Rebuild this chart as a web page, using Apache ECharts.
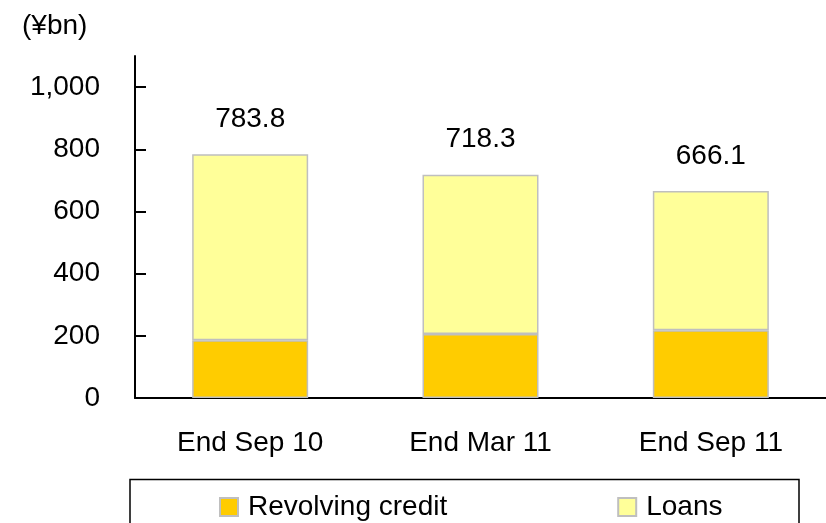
<!DOCTYPE html>
<html>
<head>
<meta charset="utf-8">
<script src="https://cdn.jsdelivr.net/npm/echarts@6/dist/echarts.min.js"></script>
<style>
  html, body { margin: 0; padding: 0; background: #fff; }
  #chart { width: 826px; height: 523px; }
</style>
</head>
<body>
<div id="chart"></div>
<script>
// values, ¥bn
const categories = ['End Sep 10', 'End Mar 11', 'End Sep 11']
const revolving = [186, 206, 218]
const loans = [597.8, 512.3, 448.1]
const totals = [783.8, 718.3, 666.1]
const yTicks = [0, 200, 400, 600, 800, 1000]

const FONT = '"Liberation Sans", Arial, sans-serif'
const border = '#bfbfbf'

const myChart = echarts.init(document.getElementById('chart'), null, { renderer: 'canvas' })

const options = {
  animation: false,
  backgroundColor: '#fff',
  textStyle: { fontFamily: FONT, color: '#000' },
  grid: { left: 135, top: 56, width: 696, bottom: 125, containLabel: false },
  legend: {
    left: 219,
    top: 493,
    padding: 0,
    itemWidth: 18,
    itemHeight: 18,
    itemGap: 170,
    icon: 'rect',
    textStyle: { fontFamily: FONT, fontSize: 28, color: '#000', padding: [0, 0, 0, 5] },
    data: ['Revolving credit', 'Loans']
  },
  xAxis: {
    type: 'category',
    data: categories,
    axisLine: { lineStyle: { color: '#000', width: 2 } },
    axisTick: { inside: true, length: 10, lineStyle: { color: '#000', width: 1.5 } },
    axisLabel: { fontFamily: FONT, fontSize: 28, color: '#000', margin: 31 }
  },
  yAxis: {
    type: 'value',
    min: 0,
    max: 1100,
    splitLine: { show: false },
    axisLine: { show: true, lineStyle: { color: '#000', width: 2 } },
    axisTick: { show: true, inside: true, length: 11, customValues: yTicks, lineStyle: { color: '#000', width: 2 } },
    axisLabel: {
      customValues: yTicks,
      fontFamily: FONT, fontSize: 28, color: '#000', margin: 35,
      formatter: v => v.toLocaleString('en-US')
    }
  },
  series: [
    {
      name: 'Revolving credit',
      type: 'bar',
      stack: 'total',
      barWidth: 116,
      data: revolving,
      itemStyle: { color: '#ffcc00', borderColor: border, borderWidth: 1.5 }
    },
    {
      name: 'Loans',
      type: 'bar',
      stack: 'total',
      barWidth: 116,
      data: loans,
      itemStyle: { color: '#ffff99', borderColor: border, borderWidth: 1.5 },
      label: {
        show: true,
        position: 'top',
        distance: 21,
        fontFamily: FONT,
        fontSize: 28,
        color: '#000',
        formatter: p => totals[p.dataIndex].toFixed(1)
      }
    }
  ],
  graphic: [
    {
      type: 'text',
      left: 22,
      top: 12,
      style: { text: '(¥bn)', font: '28px ' + FONT, fill: '#000' }
    },
    {
      type: 'rect',
      shape: { x: 130, y: 479.5, width: 669, height: 80 },
      style: { fill: 'none', stroke: '#000', lineWidth: 1.5 },
      silent: true
    }
  ]
}

myChart.setOption(options)

window.addEventListener('resize', function () {
  myChart.resize()
})
</script>
</body>
</html>
